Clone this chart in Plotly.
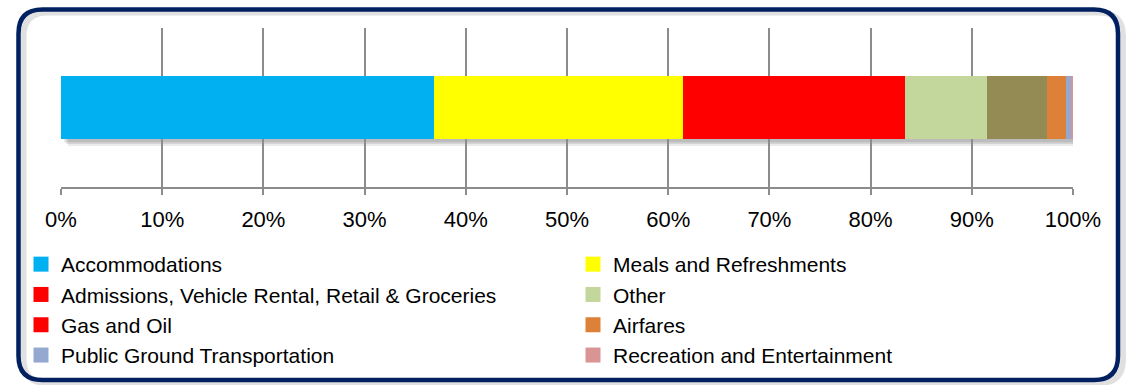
import plotly.graph_objects as go

# ---- data ----
category = ["Spending"]
series_names = [
    "Accommodations",
    "Meals and Refreshments",
    "Admissions, Vehicle Rental, Retail & Groceries",
    "Other",
    "Gas and Oil",
    "Airfares",
    "Public Ground Transportation",
    "Recreation and Entertainment",
]
series_values = [36.9, 24.6, 21.9, 8.1, 5.9, 1.9, 0.5, 0.2]
bar_colors = ["#00B0F0", "#FFFF00", "#FF0000", "#C3D69B", "#948A54", "#DD8139", "#95A9D0", "#D99594"]
legend_colors = ["#00B0F0", "#FFFF00", "#FF0000", "#C3D69B", "#FF0000", "#DD8139", "#95A9D0", "#D99594"]
x_ticks = list(range(0, 101, 10))
x_tick_labels = [f"{t}%" for t in x_ticks]

W, H = 1132, 385
L, R, T, B = 61, 1073, 28, 187
FONT = "Liberation Sans, Arial, sans-serif"


def pxp(x):
    return (x - L) / (R - L)


def pyp(y):
    return (B - y) / (B - T)


def rounded_path(x0, y0, x1, y1, r):
    def P(x, y):
        return f"{pxp(x):.5f},{pyp(y):.5f}"

    return " ".join([
        f"M {P(x0 + r, y0)}", f"L {P(x1 - r, y0)}",
        f"Q {P(x1, y0)} {P(x1, y0 + r)}", f"L {P(x1, y1 - r)}",
        f"Q {P(x1, y1)} {P(x1 - r, y1)}", f"L {P(x0 + r, y1)}",
        f"Q {P(x0, y1)} {P(x0, y1 - r)}", f"L {P(x0, y0 + r)}",
        f"Q {P(x0, y0)} {P(x0 + r, y0)}", "Z",
    ])


fig = go.Figure()
BAR_W = 0.396
# bars (stacked, no legend entries)
for name, val, bc in zip(series_names, series_values, bar_colors):
    fig.add_trace(go.Bar(
        x=[val], y=category, orientation="h", name=name,
        marker=dict(color=bc, line=dict(width=0)), width=BAR_W,
        showlegend=False, hoverinfo="name+x",
    ))

# legend entries: two columns, filled row by row
for i, (name, lc) in enumerate(zip(series_names, legend_colors)):
    fig.add_trace(go.Scatter(
        x=[None], y=[None], mode="markers", name=name,
        marker=dict(symbol="square", size=15, color=lc, line=dict(width=0)),
        legend="legend" if i % 2 == 0 else "legend2",
        hoverinfo="skip",
    ))

total = sum(series_values)
shapes = []
# frame shadow
shapes.append(dict(type="path", xref="paper", yref="paper", layer="below",
                   path=rounded_path(18.5 + 5, 9.5 + 3, 1118 + 5, 380 + 3, 24),
                   line=dict(color="rgba(0,0,0,0.12)", width=6)))
# frame
shapes.append(dict(type="path", xref="paper", yref="paper", layer="above",
                   path=rounded_path(18.5, 9.5, 1118, 380, 24),
                   line=dict(color="#002060", width=4.5)))
# bar shadow
for k, a in enumerate([0.10, 0.10, 0.08]):
    off = 0.02 + 0.012 * k
    shapes.append(dict(type="rect", xref="x", yref="y", layer="below",
                       x0=0.3 + 0.2 * k, x1=total + 0.3, y0=-BAR_W / 2 - off, y1=BAR_W / 2 - off,
                       fillcolor=f"rgba(0,0,0,{a})", line=dict(width=0)))

legend_common = dict(
    orientation="v", xanchor="left", yanchor="top", traceorder="normal",
    font=dict(family=FONT, size=21, color="black"),
    itemclick=False, itemdoubleclick=False,
    tracegroupgap=0, bgcolor="rgba(0,0,0,0)", borderwidth=0,
)

fig.update_layout(
    width=W, height=H,
    margin=dict(l=L, r=W - R, t=T, b=H - B, pad=0, autoexpand=False),
    barmode="stack",
    paper_bgcolor="white", plot_bgcolor="white",
    font=dict(family=FONT, size=22, color="black"),
    showlegend=True,
    legend=dict(x=pxp(21), y=pyp(244), **legend_common),
    legend2=dict(x=pxp(573), y=pyp(244), **legend_common),
    shapes=shapes,
    xaxis=dict(
        range=[0, 100], tickvals=x_ticks, ticktext=x_tick_labels,
        showgrid=True, gridcolor="#8C8C8C", gridwidth=1.5,
        showline=True, linecolor="#8C8C8C", linewidth=1.5,
        ticks="outside", ticklen=6, tickcolor="#8C8C8C", tickwidth=1.5,
        ticklabelstandoff=6, zeroline=False, fixedrange=True,
        tickfont=dict(family=FONT, size=22, color="black"),
    ),
    yaxis=dict(
        range=[-0.5, 0.5], showticklabels=False, showgrid=False,
        showline=False, zeroline=False, fixedrange=True,
    ),
)

fig.write_html("out.html")
